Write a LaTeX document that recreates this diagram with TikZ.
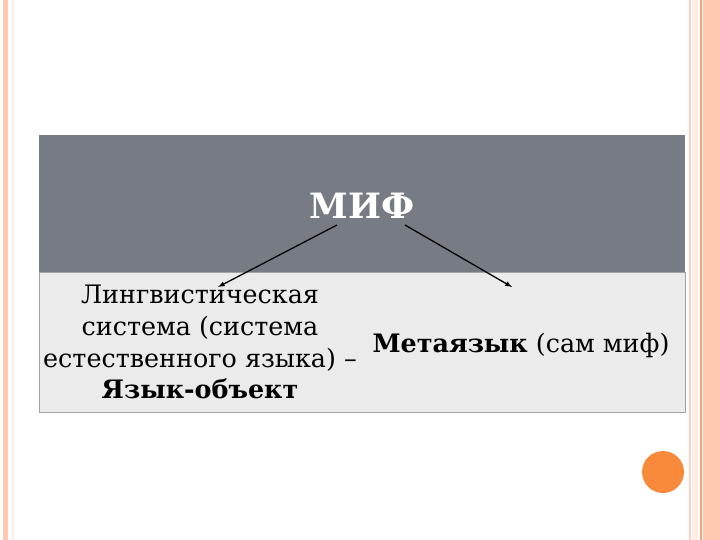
\documentclass[tikz,border=0pt]{standalone}
\usepackage{fontspec}
\setmainfont{DejaVu Serif}
\definecolor{headgray}{HTML}{777B83}
\definecolor{bodygray}{HTML}{EBEBEB}
\definecolor{framegray}{HTML}{A3A3A3}
\definecolor{stripe}{HTML}{FFC8B1}
\definecolor{stripedark}{HTML}{F7A27A}
\definecolor{stripelight}{HTML}{FDEDE3}
\definecolor{dot}{HTML}{F98A3C}

\begin{document}
\begin{tikzpicture}[x=1bp,y=-1bp,
    textbox/.style ={align=center, inner sep=0pt, font=\fontsize{25.5}{32}\selectfont},
    link/.style ={-latex, line width=1.3pt}]
   \useasboundingbox (0,0) rectangle (720,540);
   \fill[white] (0,0) rectangle (720,540);
   % side stripes
   \fill[stripe] (3,0) rectangle (8,540);
   \draw[stripelight, line width=1.2] (13,0) -- (13,540);
   \draw[stripe!80!white, line width=1.2] (690,0) -- (690,540);
   \fill[stripelight] (692,0) rectangle (698,540);
   \draw[stripedark, line width=1.5] (701,0) -- (701,540);
   \fill[stripe] (703,0) rectangle (720,540);
   % table
   \fill[headgray] (39,135) rectangle (685,272);
   \fill[bodygray] (39,272) rectangle (685,412);
   \draw[framegray] (39,272) rectangle (685,412);
   \node[textbox, font=\fontsize{35}{40}\selectfont\bfseries, text=white] (mif) at (362,206) {МИФ};
   \node[textbox] (object) at (200,342) {Лингвистическая\\система (система\\естественного языка) –\\\textbf{Язык-объект}};
   \node[textbox] (meta) at (521,345) {\textbf{Метаязык} (сам миф)};
   \coordinate (mifL) at (337,225);
   \coordinate (mifR) at (405,225);
   \coordinate (objectTop) at (218,287);
   \coordinate (metaTop) at (512,287);
   \draw[link] (mifL) to (objectTop);
   \draw[link] (mifR) to (metaTop);
   \fill[dot] (663,472) circle (21);
 \end{tikzpicture}
\end{document}
